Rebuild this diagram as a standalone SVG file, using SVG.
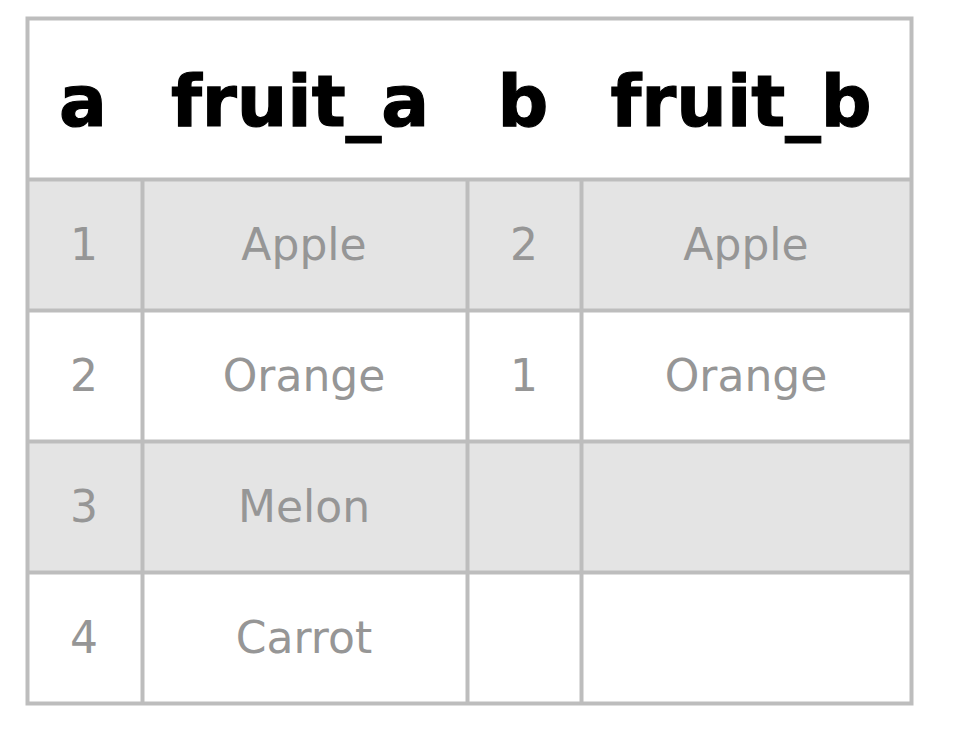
<svg xmlns="http://www.w3.org/2000/svg" width="960" height="744" viewBox="0 0 960 744">
<style>
.h{font-family:"DejaVu Sans",Verdana,sans-serif;font-weight:bold;font-size:71px;fill:#000;stroke:#000;stroke-width:1.2;text-anchor:middle}
.t{font-family:"DejaVu Sans",Verdana,sans-serif;font-size:44px;fill:#969696;text-anchor:middle}
.g{fill:#e4e4e4}
.w{fill:#fff}
.ln{stroke:#bdbdbd;stroke-width:4;fill:none}
</style>
<rect width="960" height="744" fill="#fff"/>
<g id="rows">
<rect class="w" x="27.5" y="18.5" width="884" height="161"/>
<rect class="g" x="27.5" y="179.5" width="884" height="131"/>
<rect class="w" x="27.5" y="310.5" width="884" height="131"/>
<rect class="g" x="27.5" y="441.5" width="884" height="131"/>
<rect class="w" x="27.5" y="572.5" width="884" height="131"/>
</g>
<g id="grid" class="ln">
<rect x="27.5" y="18.5" width="884" height="685"/>
<path d="M27.5 179.5H911.5M27.5 310.5H911.5M27.5 441.5H911.5M27.5 572.5H911.5"/>
<path d="M142.5 179.5V703.5M467.5 179.5V703.5M581.5 179.5V703.5"/>
</g>
<g id="header">
<text class="h" x="83" y="126">a</text>
<text class="h" x="300" y="126">fruit_a</text>
<text class="h" x="523" y="126">b</text>
<text class="h" x="741" y="126">fruit_b</text>
</g>
<g id="row1">
<text class="t" x="84" y="260">1</text>
<text class="t" x="304" y="260">Apple</text>
<text class="t" x="524" y="260">2</text>
<text class="t" x="746" y="260">Apple</text>
</g>
<g id="row2">
<text class="t" x="84" y="391">2</text>
<text class="t" x="304" y="391">Orange</text>
<text class="t" x="524" y="391">1</text>
<text class="t" x="746" y="391">Orange</text>
</g>
<g id="row3">
<text class="t" x="84" y="522">3</text>
<text class="t" x="304" y="522">Melon</text>
</g>
<g id="row4">
<text class="t" x="84" y="653">4</text>
<text class="t" x="304" y="653">Carrot</text>
</g>
</svg>
